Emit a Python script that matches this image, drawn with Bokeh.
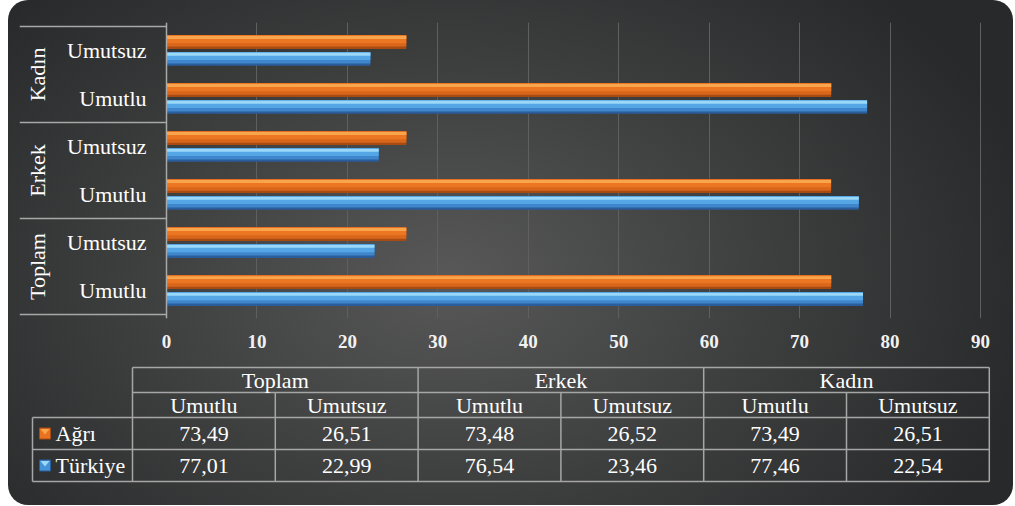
from bokeh.plotting import figure
from bokeh.layouts import column
from bokeh.models import FactorRange, Range1d, ColumnDataSource, FixedTicker
from bokeh.transform import dodge
from bokeh.core.properties import value
from bokeh.embed import file_html
from bokeh.resources import INLINE

# ---------------- data ----------------
groups = ["Toplam", "Erkek", "Kadın"]
subgroups = ["Umutlu", "Umutsuz"]
series_names = ["Ağrı", "Türkiye"]
agri = [73.49, 26.51, 73.48, 26.52, 73.49, 26.51]
turkiye = [77.01, 22.99, 76.54, 23.46, 77.46, 22.54]
x_ticks = [0, 10, 20, 30, 40, 50, 60, 70, 80, 90]

factors = [(g, s) for g in groups for s in subgroups]

FONT = "Liberation Serif"
PAGE_L = 8                 # panel left edge on the page
W = 1005
H1, H2 = 356, 149          # chart part / table part heights

# ---------------- chart ----------------
FR_L, FR_R, FR_T, FR_B = 19, 995, 22, 318       # frame, page pixels
ZERO_PX, LAST_PX = 166, 980                     # page x of first / last tick
px_per_unit = (LAST_PX - ZERO_PX) / x_ticks[-1]
x_start = -(ZERO_PX - FR_L) / px_per_unit
x_end = x_ticks[-1] + (FR_R - LAST_PX) / px_per_unit

pad_units = 2 * 2 * len(factors) / (FR_B - FR_T - 4)
MB_L, MB_R = FR_L - PAGE_L, PAGE_L + W - FR_R

p = figure(width=W, height=H1,
           x_range=Range1d(x_start, x_end),
           y_range=FactorRange(factors=factors, group_padding=0, factor_padding=0,
                               range_padding=pad_units, range_padding_units="absolute"),
           output_backend="svg", toolbar_location=None,
           min_border_left=MB_L, min_border_right=MB_R,
           min_border_top=FR_T, min_border_bottom=H1 - FR_B)
p.background_fill_color = None
p.border_fill_color = None
p.outline_line_color = None

xa = p.xaxis[0]
xa.ticker = FixedTicker(ticks=x_ticks)
xa.axis_line_color = None
xa.major_tick_line_color = None
xa.minor_tick_line_color = None
xa.major_label_text_font = FONT
xa.major_label_text_font_size = "19px"
xa.major_label_text_font_style = "bold"
xa.major_label_text_color = "#f2f2f2"
xa.major_label_standoff = 10

ya = p.yaxis[0]
ya.fixed_location = 0
ya.axis_line_color = "#a8a8a8"
ya.axis_line_width = 1.5
ya.major_tick_line_color = None
ya.minor_tick_line_color = None
ya.major_label_text_font = FONT
ya.major_label_text_font_size = "22px"
ya.major_label_text_color = "#ffffff"
ya.major_label_standoff = 14
ya.group_text_font = FONT
ya.group_text_font_size = "22px"
ya.group_text_font_style = "normal"
ya.group_text_color = "#ffffff"
ya.group_label_orientation = "parallel"
ya.separator_line_color = None

p.xgrid.ticker = FixedTicker(ticks=x_ticks)
p.xgrid.grid_line_color = "#5f5f5f"
p.ygrid.grid_line_color = None

# group separators of the category axis
n_sub = len(subgroups)
sep_y = [n_sub * j for j in range(len(groups) + 1)]
p.segment(x0=[x_start] * len(sep_y), x1=[0] * len(sep_y), y0=sep_y, y1=sep_y,
          line_color="#a8a8a8", line_width=1.5)

src = ColumnDataSource(dict(y=factors, agri=agri, tr=turkiye))
BAR_H = 0.29
OFF = 0.175


def bevel_bar(field, off, cols):
    dark, lower, main, light = cols
    layers = [
        (0.0, BAR_H, dark),
        (0.025, BAR_H - 0.05, lower),
        (0.06, BAR_H - 0.12, main),
        (0.095, 0.06, light),
    ]
    for shift, h, c in layers:
        p.hbar(y=dodge("y", off + shift, range=p.y_range), left=0, right=field,
               height=h, source=src, fill_color=c, line_color=None)


bevel_bar("agri", OFF, ("#a84b13", "#d9661b", "#ec7622", "#f9a54e"))
bevel_bar("tr", -OFF, ("#2a5d99", "#3f86cc", "#55a6e4", "#9bd8f8"))

# ---------------- data table ----------------
Y0 = H1                      # page y of table figure top
t = figure(width=W, height=H2, x_range=Range1d(FR_L, FR_R),
           y_range=Range1d(Y0 + H2, Y0), output_backend="svg", toolbar_location=None,
           x_axis_type=None, y_axis_type=None,
           min_border_left=MB_L, min_border_right=MB_R,
           min_border_top=0, min_border_bottom=0)
t.background_fill_color = None
t.border_fill_color = None
t.outline_line_color = None
t.xgrid.visible = False
t.ygrid.visible = False

TBL_L, COL_W, LEG_L = 132, 142.8, 32
ncol = len(factors)
TBL_R = TBL_L + COL_W * ncol
ROWS = [367, 392, 417, 449, 481]

hx0 = [TBL_L, TBL_L, LEG_L, LEG_L, LEG_L]
hx1 = [TBL_R] * 5
vx = [LEG_L] + [TBL_L + COL_W * k for k in range(ncol + 1)]
vy0 = [ROWS[2]] + [ROWS[0] if k % n_sub == 0 else ROWS[1] for k in range(ncol + 1)]
vy1 = [ROWS[4]] * len(vx)
LC = "#a6a6a6"
t.segment(x0=hx0, x1=hx1, y0=ROWS, y1=ROWS, line_color=LC, line_width=1.5)
t.segment(x0=vx, x1=vx, y0=vy0, y1=vy1, line_color=LC, line_width=1.5)

tx, ty, tt = [], [], []
for gi, g in enumerate(groups):
    tx.append(TBL_L + COL_W * n_sub * (gi + 0.5))
    ty.append((ROWS[0] + ROWS[1]) / 2)
    tt.append(g)
for k, (g, s) in enumerate(factors):
    cx = TBL_L + COL_W * (k + 0.5)
    tx += [cx, cx, cx]
    ty += [(ROWS[1] + ROWS[2]) / 2, (ROWS[2] + ROWS[3]) / 2, (ROWS[3] + ROWS[4]) / 2]
    tt += [s, f"{agri[k]:.2f}".replace(".", ","), f"{turkiye[k]:.2f}".replace(".", ",")]

t.text(x=tx, y=ty, text=tt, text_align="center", text_baseline="middle",
       text_font=value(FONT), text_font_size="22px", text_color="#ffffff")

row_c = [(ROWS[2] + ROWS[3]) / 2, (ROWS[3] + ROWS[4]) / 2]
t.text(x=[55, 55], y=row_c, text=series_names, text_align="left", text_baseline="middle",
       text_font=value(FONT), text_font_size="22px", text_color="#ffffff")

# legend keys
key_cols = [("#e8721f", "#a84b13", "#f9a54e"), ("#4593d8", "#2a5d99", "#9bd8f8")]
KL, KR, KS = 39, 50, 5.5
t.quad(left=[KL] * 2, right=[KR] * 2, top=[c - KS for c in row_c], bottom=[c + KS for c in row_c],
       fill_color=[c[0] for c in key_cols], line_color=[c[1] for c in key_cols], line_width=1)
t.patches(xs=[[KL + 1, KR - 1, (KL + KR) / 2] for _ in row_c],
          ys=[[c - KS + 1, c - KS + 1, c + 1] for c in row_c],
          fill_color=[c[2] for c in key_cols], line_color=None)

lay = column(p, t, spacing=0, margin=(0, 0, 0, PAGE_L),
             styles={
                 "background": "radial-gradient(ellipse 60% 80% at 44% 55%, #585858 0%, #3c3d3d 55%, #28292a 100%)",
                 "border-radius": "20px",
             })

open("out.html", "w").write(file_html(lay, INLINE))
